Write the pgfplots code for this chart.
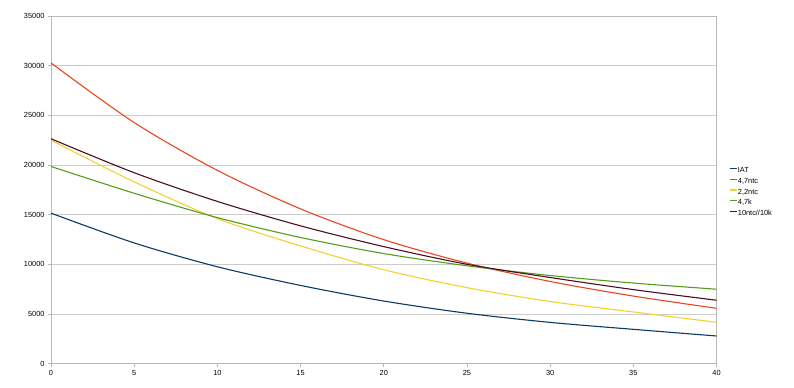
\documentclass[border=0pt]{standalone}
\usepackage{fontspec}
\setmainfont{Liberation Sans}
\usepackage{pgfplots}
\pgfplotsset{compat=1.18}
\definecolor{cIAT}{HTML}{0B3A66}
\definecolor{cA}{HTML}{E8461E}
\definecolor{cB}{HTML}{F2D22E}
\definecolor{cC}{HTML}{579D1C}
\definecolor{cD}{HTML}{4B0D22}
\definecolor{gridgray}{HTML}{CCCCCC}
\definecolor{axisgray}{HTML}{B8B8B8}
\begin{document}
\begin{tikzpicture}
\path[use as bounding box] (-51bp,-24.4bp) rectangle (743bp,363.6bp);
\begin{axis}[
  at={(0,0)}, anchor=south west,
  scale only axis, width=665.5bp, height=347.6bp,
  xmin=0, xmax=40, ymin=0, ymax=35000,
  xtick={0,5,...,40}, ytick={0,5000,...,35000},
  ymajorgrids, grid style={draw=gridgray, line width=0.7bp},
  axis line style={draw=axisgray, line width=0.7bp},
  tick style={draw=axisgray, line width=0.7bp},
  major tick length=3bp, tick align=outside,
  xtick pos=bottom, ytick pos=left,
  scaled y ticks=false,
  /pgf/number format/assume math mode=true,
  yticklabel style={/pgf/number format/fixed, /pgf/number format/1000 sep={}},
  tick label style={font=\fontsize{7.4}{8}\selectfont, text=black},
  legend style={at={(1.014,0.575)}, anchor=north west, draw=none, fill=none,
    font=\fontsize{7.4}{8}\selectfont, row sep=0pt,
    nodes={inner sep=0.6bp, text height=6.2bp, text depth=3.3bp}},
  legend cell align=left,
  legend image code/.code={\draw[#1, line width=1.3bp] (0bp,2.6bp) -- (7bp,2.6bp);},
  every axis plot/.append style={line width=1.1bp, smooth, tension=0.5, no markers},
]
\addplot[cIAT] coordinates {(0,15150) (5,12150) (10,9750) (15,7870) (20,6300) (25,5070) (30,4150) (35,3450) (40,2780)};
\addlegendentry{IAT}
\addplot[cA] coordinates {(0,30270) (5,24270) (10,19455) (15,15580) (20,12480) (25,10120) (30,8270) (35,6800) (40,5570)};
\addlegendentry{4,7ntc}
\addplot[cB] coordinates {(0,22500) (5,18300) (10,14600) (15,11850) (20,9450) (25,7650) (30,6250) (35,5200) (40,4160)};
\addlegendentry{2,2ntc}
\addplot[cC] coordinates {(0,19850) (5,17150) (10,14700) (15,12700) (20,11080) (25,9850) (30,8870) (35,8110) (40,7490)};
\addlegendentry{4,7k}
\addplot[cD] coordinates {(0,22640) (5,19220) (10,16330) (15,13870) (20,11780) (25,10000) (30,8670) (35,7450) (40,6380)};
\addlegendentry{10ntc//10k}
\end{axis}
\end{tikzpicture}
\end{document}
